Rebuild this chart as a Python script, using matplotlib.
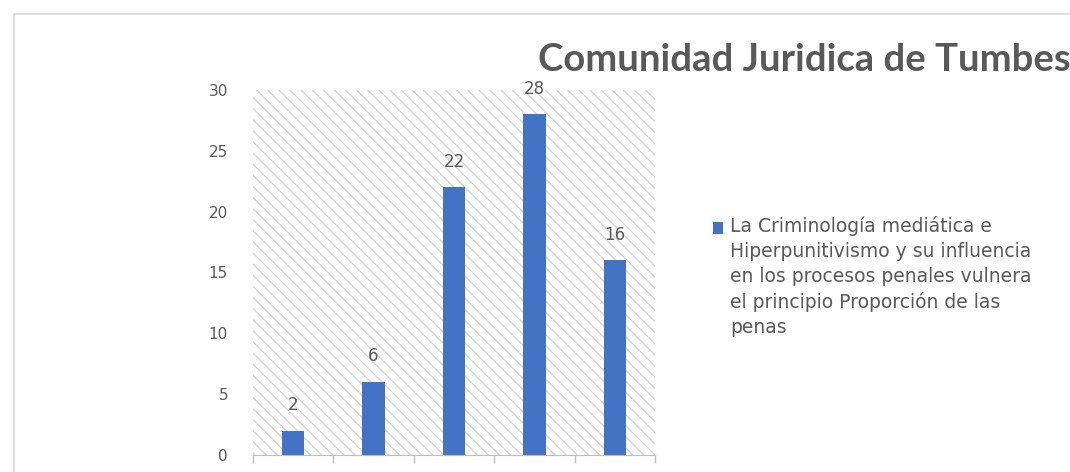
import matplotlib.pyplot as plt
from matplotlib.patches import Rectangle

# data
categories = ["1", "2", "3", "4", "5"]
values = [2, 6, 22, 28, 16]
series_name = ("La Criminología mediática e\nHiperpunitivismo y su influencia\n"
               "en los procesos penales vulnera\nel principio Proporción de las\npenas")
title = "Comunidad Juridica de Tumbes"
yticks = [0, 5, 10, 15, 20, 25, 30]

plt.rcParams['font.family'] = ['DejaVu Sans']
plt.rcParams['hatch.color'] = '#d2d2d2'
plt.rcParams['hatch.linewidth'] = 0.9

grey = '#595959'
fig = plt.figure(figsize=(10.7, 4.72), dpi=100)

# outer chart border
fig.patches.append(Rectangle((14 / 1070, -0.1), 1.2, 1.1 - 14 / 472, transform=fig.transFigure,
                             fill=False, edgecolor='#d9d9d9', lw=1.2))

ax = fig.add_axes([253 / 1070, 17 / 472, 402 / 1070, 365 / 472])
ax.add_patch(Rectangle((0, 0), 1, 1, transform=ax.transAxes, fill=False,
                       hatch='\\\\\\', edgecolor='#d2d2d2', lw=0, zorder=0))

x = range(len(categories))
bars = ax.bar(x, values, width=0.28, color='#4472C4', zorder=2, label=series_name)
for xi, v in zip(x, values):
    ax.annotate(str(v), (xi, v), xytext=(0, 12), textcoords='offset points',
                ha='center', va='bottom', fontsize=12, color=grey)

ax.set_xlim(-0.5, len(categories) - 0.5)
ax.set_ylim(0, 30)
ax.set_yticks(yticks)
ax.tick_params(axis='y', length=0, pad=18, labelsize=11, labelcolor=grey)
ax.set_xticks([i - 0.5 for i in range(len(categories) + 1)])
ax.set_xticklabels([])
ax.tick_params(axis='x', length=6, color='#bfbfbf', width=1)
for s in ['top', 'right', 'left']:
    ax.spines[s].set_visible(False)
ax.spines['bottom'].set_color('#bfbfbf')

fig.text(538 / 1070, 1 - 60 / 472, title, fontsize=27.5, color=grey, ha='left', va='center',
         family='Lato', weight='bold')

leg = ax.legend(loc='upper left', bbox_to_anchor=(696 / 1070, 1 - 199 / 472),
                bbox_transform=fig.transFigure, frameon=False, fontsize=13.5,
                handlelength=0.55, handleheight=0.55, handletextpad=0.35)
for t in leg.get_texts():
    t.set_color(grey)
    t.set_linespacing(1.4)

# move the legend square up to the first line of the label
fig.canvas.draw()
r = fig.canvas.get_renderer()
tb = leg.get_texts()[0].get_window_extent(r)
h = leg.legend_handles[0]
hb = h.get_window_extent(r)
line_px = tb.height / 5
shift_px = (tb.y1 - line_px / 2) - (hb.y0 + hb.height / 2)
h.set_y(h.get_y() + shift_px * 72 / fig.dpi)

fig.savefig('out.png', dpi=100)
